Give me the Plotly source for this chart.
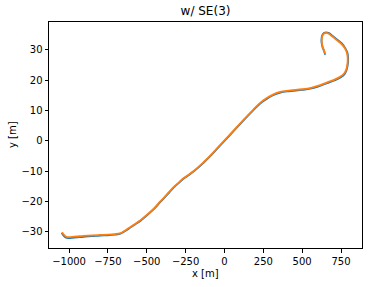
import plotly.graph_objects as go

# Estimated trajectory (orange)
est_x = [-1045, -1037, -1019, -993, -950, -908, -850, -800, -750, -704, -670, -650, -620, -586, -540,
         -500, -455, -414, -370, -329, -295, -264, -220, -178, -135, -93, -30, 36, 79, 130, 186, 230,
         272, 315, 358, 400, 443, 500, 551, 600, 658, 705, 744, 770, 782, 790, 793, 788, 776, 752,
         723, 695, 669, 655, 641, 630, 626, 628, 632, 640, 647]
est_y = [-30.2, -30.8, -31.7, -31.8, -31.6, -31.4, -31.2, -31.1, -31.0, -30.8, -30.5, -30.0, -29.0,
         -27.8, -26.2, -24.5, -22.4, -20.1, -17.7, -15.4, -13.8, -12.4, -10.8, -9.1, -7.1, -5.0,
         -1.5, 2.1, 4.5, 7.3, 10.3, 12.5, 14.1, 15.3, 16.1, 16.5, 16.7, 17.0, 17.4, 18.1, 19.2,
         20.1, 21.1, 22.2, 23.3, 25.0, 27.1, 29.0, 30.4, 32.0, 33.2, 34.4, 35.4, 35.6, 35.4,
         34.6, 33.2, 32.0, 31.0, 29.9, 28.8]

# Ground-truth trajectory (blue)
gt_x = [-1047, -1039, -1020, -993, -950, -908, -850, -800, -750, -704, -669, -649, -618, -584, -538,
        -498, -453, -412, -368, -327, -293, -262, -218, -176, -133, -91, -28, 38, 81, 132, 188, 232,
        274, 317, 360, 402, 445, 502, 553, 602, 660, 707, 747, 773, 785, 793, 796, 791, 778, 754,
        724, 696, 669, 655, 640, 628, 624, 626, 631, 640, 648]
gt_y = [-30.4, -31.1, -32.0, -32.1, -31.9, -31.7, -31.5, -31.3, -31.2, -31.0, -30.7, -30.1, -29.1,
        -27.9, -26.3, -24.6, -22.5, -20.2, -17.8, -15.5, -13.9, -12.5, -10.9, -9.2, -7.2, -5.1,
        -1.6, 2.0, 4.4, 7.2, 10.2, 12.4, 13.9, 15.1, 15.9, 16.3, 16.5, 16.8, 17.2, 17.9, 19.0,
        19.9, 20.9, 22.0, 23.2, 25.0, 27.1, 29.1, 30.5, 32.2, 33.4, 34.6, 35.6, 35.8, 35.6,
        34.7, 33.2, 32.0, 30.9, 29.7, 28.4]

x_ticks = [-1000, -750, -500, -250, 0, 250, 500, 750]
y_ticks = [-30, -20, -10, 0, 10, 20, 30]

FONT = "DejaVu Sans"

fig = go.Figure()
fig.add_trace(go.Scatter(x=gt_x, y=gt_y, mode="lines", line=dict(color="#1f77b4", width=1.8, shape="spline"),
                         showlegend=False))
fig.add_trace(go.Scatter(x=est_x, y=est_y, mode="lines", line=dict(color="#ff7f0e", width=1.8, shape="spline"),
                         showlegend=False))

axis_common = dict(showline=True, linecolor="black", linewidth=1, mirror=True, showgrid=False,
                   zeroline=False, ticks="outside", ticklen=3.5, tickwidth=0.8, tickcolor="black",
                   automargin=False, tickfont=dict(family=FONT, size=10, color="black"))

fig.update_xaxes(range=[-1129, 885], tickvals=x_ticks, **axis_common)
fig.update_yaxes(range=[-35.4, 39.2], tickvals=y_ticks, **axis_common)

fig.update_layout(
    width=373, height=287,
    margin=dict(l=49, r=11, t=22, b=39, autoexpand=False),
    plot_bgcolor="white", paper_bgcolor="white",
    title=dict(text="w/ SE(3)", x=0.551, xanchor="center", y=1 - 11 / 287, yanchor="middle",
               yref="container", font=dict(family=FONT, size=12, color="black")),
    annotations=[
        dict(text="x [m]", xref="paper", yref="paper", x=0.5, y=0, yshift=-25, xanchor="center",
             yanchor="middle", showarrow=False, font=dict(family=FONT, size=10, color="black")),
        dict(text="y [m]", xref="paper", yref="paper", x=0, y=0.5, xshift=-37, textangle=-90,
             xanchor="center", yanchor="middle", showarrow=False,
             font=dict(family=FONT, size=10, color="black")),
    ],
)

fig.write_html("out.html", config={"displayModeBar": False},
               post_script="document.body.style.margin='0';document.body.style.overflow='hidden';")
